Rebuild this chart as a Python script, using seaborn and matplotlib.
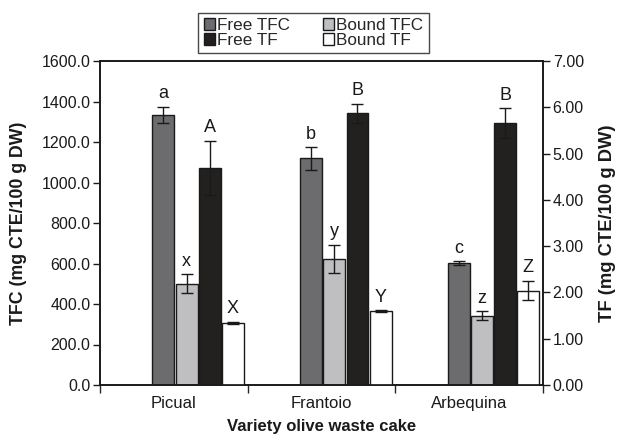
import matplotlib
matplotlib.use("Agg")
import matplotlib.pyplot as plt
import matplotlib.patches as mpatches
import numpy as np
import pandas as pd
import seaborn as sns

categories = ["Picual", "Frantoio", "Arbequina"]
series = ["Free TFC", "Bound TFC", "Free TF", "Bound TF"]

free_tfc = [1335, 1119, 601]
free_tfc_err = [40, 56, 10]
bound_tfc = [500, 622, 343]
bound_tfc_err = [48, 70, 20]
free_tf = [4.69, 5.87, 5.66]
free_tf_err = [0.58, 0.20, 0.32]
bound_tf = [1.34, 1.59, 2.04]
bound_tf_err = [0.02, 0.02, 0.21]

letters_free_tfc = ["a", "b", "c"]
letters_bound_tfc = ["x", "y", "z"]
letters_free_tf = ["A", "B", "B"]
letters_bound_tf = ["X", "Y", "Z"]

left_ticks = [0, 200, 400, 600, 800, 1000, 1200, 1400, 1600]
right_ticks = [0, 1, 2, 3, 4, 5, 6, 7]

colors = {"Free TFC": "#6b6c70", "Bound TFC": "#bebfc3",
          "Free TF": "#231f20", "Bound TF": "#ffffff"}

sns.set_style("ticks")
plt.rcParams["font.family"] = ["Liberation Sans", "DejaVu Sans"]
plt.rcParams["font.size"] = 11.5

df_tfc = pd.DataFrame({
    "Variety": categories * 2,
    "Series": ["Free TFC"] * 3 + ["Bound TFC"] * 3,
    "Value": free_tfc + bound_tfc,
})
df_tf = pd.DataFrame({
    "Variety": categories * 2,
    "Series": ["Free TF"] * 3 + ["Bound TF"] * 3,
    "Value": free_tf + bound_tf,
})

fig = plt.figure(figsize=(6.19, 4.38), dpi=100)
ax = fig.add_axes([100 / 619, 1 - 385 / 438, 443 / 619, 324 / 438])
ax2 = ax.twinx()

common = dict(x="Variety", y="Value", hue="Series", hue_order=series,
              order=categories, palette=colors, width=0.63, gap=0.06,
              edgecolor="#1a1a1a", linewidth=1.0, legend=False, errorbar=None)
sns.barplot(data=df_tfc, ax=ax, **common)
sns.barplot(data=df_tf, ax=ax2, **common)

cont1 = [c for c in ax.containers if len(c) > 0]
cont2 = [c for c in ax2.containers if len(c) > 0]


def annotate(axis, container, vals, errs, labels, pad):
    for bar, v, e, lab in zip(container, vals, errs, labels):
        xc = bar.get_x() + bar.get_width() / 2
        axis.errorbar(xc, v, yerr=e, fmt="none", ecolor="#1a1a1a",
                      elinewidth=1.0, capsize=4, capthick=1.0, zorder=5)
        axis.text(xc, v + e + pad, lab, ha="center", va="bottom",
                  fontsize=13, color="#1a1a1a")


annotate(ax, cont1[0], free_tfc, free_tfc_err, letters_free_tfc, 22)
annotate(ax, cont1[1], bound_tfc, bound_tfc_err, letters_bound_tfc, 22)
annotate(ax2, cont2[0], free_tf, free_tf_err, letters_free_tf, 0.1)
annotate(ax2, cont2[1], bound_tf, bound_tf_err, letters_bound_tf, 0.1)

shift = 0.165
ax.set_xlim(-0.5 - shift, 2.5 - shift)
ax.set_ylim(0, 1600)
ax2.set_ylim(0, 7)

ax.set_xticks([-0.5 - shift, 0.5 - shift, 1.5 - shift, 2.5 - shift])
ax.set_xticklabels([])
ax.set_xticks([i - shift for i in range(3)], minor=True)
ax.set_xticklabels(categories, minor=True, fontsize=12, color="#1a1a1a")
ax.tick_params(axis="x", which="minor", length=0, pad=8)
ax.tick_params(axis="x", which="major", length=6, width=1, direction="out")

ax.set_yticks(left_ticks)
ax.set_yticklabels([f"{t:.1f}" for t in left_ticks])
ax2.set_yticks(right_ticks)
ax2.set_yticklabels([f"{t:.2f}" for t in right_ticks])
ax.tick_params(axis="y", length=5, width=1, direction="out", labelsize=11.5,
               colors="#1a1a1a", pad=2)
ax2.tick_params(axis="y", length=5, width=1, direction="out", labelsize=11.5,
                colors="#1a1a1a", pad=2)

ax.set_xlabel("Variety olive waste cake", fontweight="bold", fontsize=12,
              labelpad=6, color="#1a1a1a")
ax.set_ylabel("TFC (mg CTE/100 g DW)", fontweight="bold", fontsize=12.8,
              labelpad=10, color="#1a1a1a")
ax2.set_ylabel("TF (mg CTE/100 g DW)", fontweight="bold", fontsize=13.2,
               labelpad=11, color="#1a1a1a")

for a in (ax, ax2):
    for s in a.spines.values():
        s.set_visible(True)
        s.set_linewidth(1.2)
        s.set_color("#1a1a1a")

handles = [mpatches.Patch(facecolor=colors[s], edgecolor="#1a1a1a", linewidth=1.0, label=s)
           for s in ["Free TFC", "Free TF", "Bound TFC", "Bound TF"]]
leg = fig.legend(handles=handles, ncol=2, loc="upper center",
                 bbox_to_anchor=(313.5 / 619, 1 - 12.7 / 438), frameon=True,
                 fontsize=12.3, handlelength=0.65, handleheight=0.65,
                 handletextpad=0.15, columnspacing=1.9, labelspacing=0.0,
                 borderpad=0.3, borderaxespad=0, fancybox=False,
                 edgecolor="#1a1a1a")
leg.get_frame().set_linewidth(1.0)

fig.savefig("out.png", dpi=100)
